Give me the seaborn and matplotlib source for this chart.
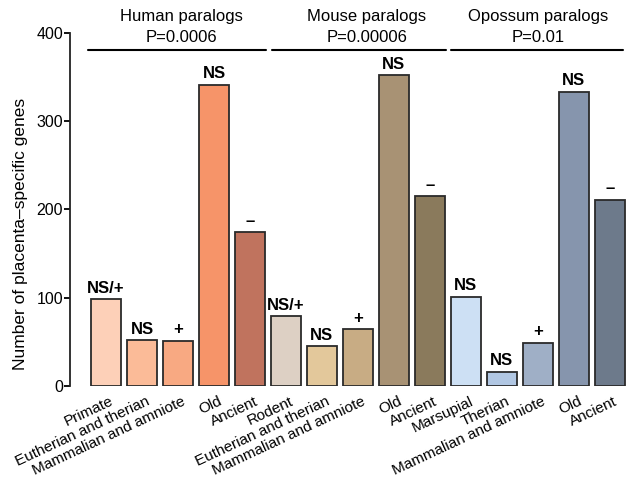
import matplotlib
matplotlib.use("Agg")
import matplotlib.pyplot as plt
import matplotlib.transforms as mtransforms
import seaborn as sns
import pandas as pd

# ---- data ----
groups = ["Human paralogs", "Mouse paralogs", "Opossum paralogs"]
group_pvalues = ["P=0.0006", "P=0.00006", "P=0.01"]
human_labels = ["Primate", "Eutherian and therian", "Mammalian and amniote", "Old", "Ancient"]
mouse_labels = ["Rodent", "Eutherian and therian", "Mammalian and amniote", "Old", "Ancient"]
opossum_labels = ["Marsupial", "Therian", "Mammalian and amniote", "Old", "Ancient"]
human_values = [98, 52, 51, 341, 174]
mouse_values = [79, 45, 64, 352, 215]
opossum_values = [101, 16, 49, 333, 211]
human_marks = ["NS/+", "NS", "+", "NS", "–"]
mouse_marks = ["NS/+", "NS", "+", "NS", "–"]
opossum_marks = ["NS", "NS", "+", "NS", "–"]
human_colors = ["#FDD0B8", "#FBBB98", "#F8A982", "#F69469", "#C0735E"]
mouse_colors = ["#DDD0C4", "#E3C89B", "#C8AC84", "#A89274", "#8A7A5C"]
opossum_colors = ["#CDE0F4", "#B1C7E3", "#9FAFC6", "#8695AD", "#6D7A8B"]

labels = human_labels + mouse_labels + opossum_labels
values = human_values + mouse_values + opossum_values
marks = human_marks + mouse_marks + opossum_marks
colors = human_colors + mouse_colors + opossum_colors
keys = [f"{i:02d}" for i in range(len(labels))]

df = pd.DataFrame({"key": keys, "value": values})

sns.set_style("white")
plt.rcParams["font.family"] = ["Liberation Sans", "DejaVu Sans"]
plt.rcParams["text.color"] = "black"
plt.rcParams["axes.labelcolor"] = "black"
plt.rcParams["xtick.color"] = "black"
plt.rcParams["ytick.color"] = "black"

fig = plt.figure(figsize=(6.26, 4.84), dpi=100)
ax = fig.add_axes([70 / 626, (484 - 386) / 484, 556 / 626, 386 / 484])

sns.barplot(data=df, x="key", y="value", hue="key", palette=colors, legend=False,
            order=keys, hue_order=keys, width=0.833, edgecolor="#2a2a2a",
            linewidth=1.3, saturation=1, ax=ax)

ax.set_xlim(-1, 14.45)
ax.set_ylim(0, 437)

# annotations above bars
for i, (v, m) in enumerate(zip(values, marks)):
    ax.text(i, v + 4, m, ha="center", va="bottom", fontsize=12, fontweight="bold")

# group headers
header_x = [2.1, 7.25, 12.0]
spans = [(-0.5, 4.45), (4.6, 9.45), (9.6, 14.38)]
for g, p, hx, (a, b) in zip(groups, group_pvalues, header_x, spans):
    ax.plot([a, b], [380, 380], color="black", lw=1.5, clip_on=False)
    ax.text(hx, 418, g, ha="center", va="center", fontsize=12)
    ax.text(hx, 395, p, ha="center", va="center", fontsize=12)

# axes styling
for s in ["top", "right", "bottom"]:
    ax.spines[s].set_visible(False)
ax.spines["left"].set_bounds(0, 400)
ax.spines["left"].set_linewidth(1.3)
ax.spines["left"].set_color("#222222")
ax.set_yticks([0, 100, 200, 300, 400])
ax.tick_params(axis="y", direction="out", length=4, width=1.3, labelsize=11.5, pad=1, left=True)
ax.tick_params(axis="x", length=0, pad=6)
ax.set_xticks(range(len(labels)))
ax.set_xticklabels(labels, rotation=25, ha="right", va="top", rotation_mode="anchor", fontsize=11)
offset = mtransforms.ScaledTranslation(4 / 100, 0, fig.dpi_scale_trans)
for lbl in ax.get_xticklabels():
    lbl.set_transform(lbl.get_transform() + offset)
ax.set_xlabel("")
ax.set_ylabel("Number of placenta–specific genes", fontsize=12.5)
ax.yaxis.set_label_coords(-0.075, 0.394)

fig.savefig("out.png", dpi=100)
